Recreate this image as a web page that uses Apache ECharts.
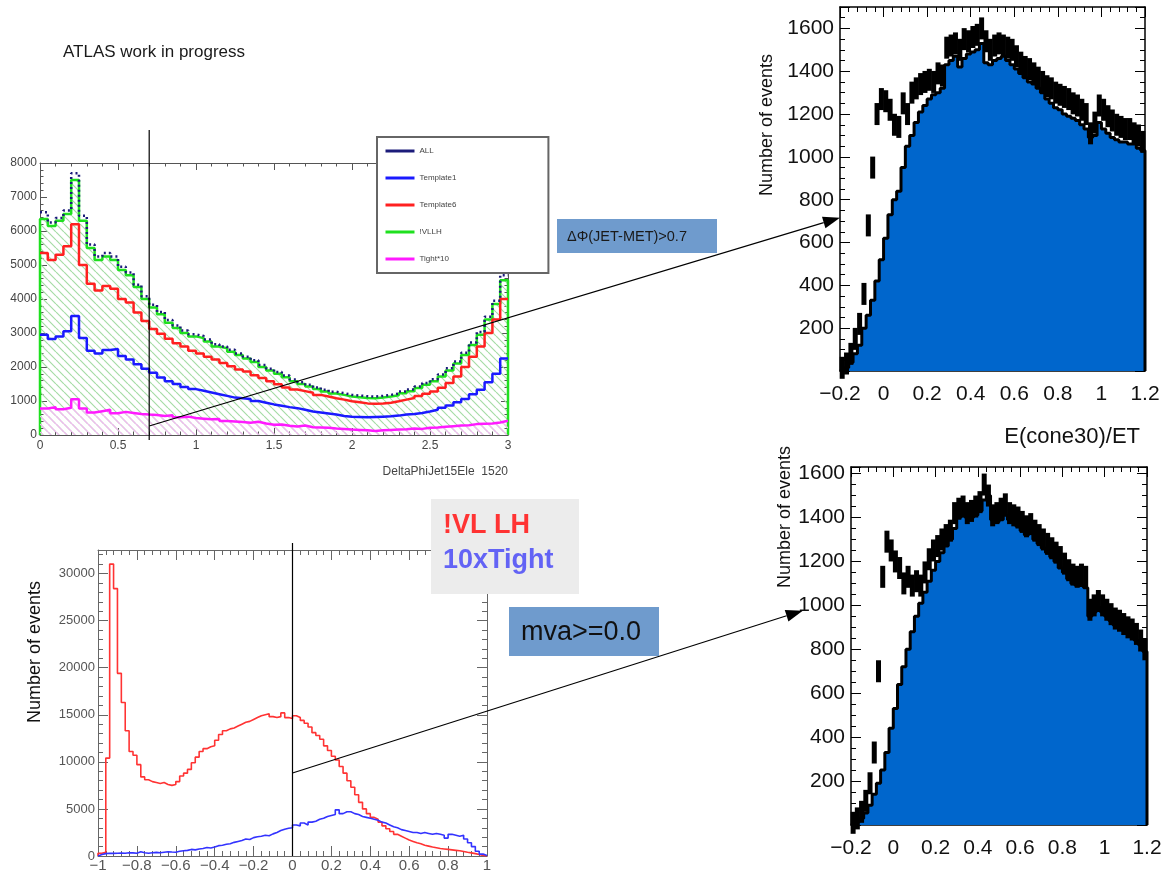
<!DOCTYPE html>
<html><head><meta charset="utf-8">
<script src="https://cdn.jsdelivr.net/npm/echarts@6/dist/echarts.min.js"></script>
<style>html,body{margin:0;padding:0;background:#fff}#c{width:1167px;height:875px}</style>
</head><body><div id="c"></div>
<script>
// ---------- DATA ----------
// Panel 1: DeltaPhiJet15Ele, bins of 0.05 from 0 to 3
const phiLo = 0, phiW = 0.05;
const phiAll = [6550,6250,6380,6600,7700,6450,5600,5250,5350,5250,4950,4780,4420,4080,3830,3620,3380,3220,3070,2960,
  2910,2810,2670,2600,2510,2400,2300,2200,2060,1950,1850,1750,1630,1550,1480,1400,1330,1270,1230,1180,
  1160,1140,1130,1150,1180,1220,1280,1340,1430,1530,1640,1780,1960,2160,2420,2720,3030,3480,3950,4700];
const phiT1 = [2950,2820,2900,3050,3500,2850,2480,2400,2500,2530,2320,2220,2080,1950,1830,1690,1580,1500,1410,1350,
  1300,1250,1200,1150,1100,1080,1060,1000,950,900,860,820,790,740,690,660,630,600,560,540,
  530,520,530,540,550,570,600,620,650,690,740,800,870,960,1060,1200,1330,1550,1800,2250];
const phiT6 = [5350,5150,5300,5550,6200,5000,4450,4250,4380,4300,4000,3900,3600,3350,3120,2980,2830,2700,2600,2480,
  2400,2300,2220,2120,2020,1930,1870,1760,1680,1580,1490,1400,1340,1290,1240,1180,1130,1080,1040,990,
  960,930,920,930,950,990,1040,1090,1150,1210,1280,1390,1530,1720,2000,2300,2600,3000,3400,4000];
const phiVLLH = [6350,6150,6300,6500,7500,6300,5500,5150,5250,5150,4850,4700,4350,4000,3750,3550,3300,3150,3000,2900,
  2850,2750,2600,2550,2450,2350,2250,2150,2000,1900,1800,1700,1580,1500,1430,1350,1280,1220,1180,1130,
  1110,1090,1080,1100,1130,1170,1230,1290,1380,1480,1580,1720,1900,2100,2350,2650,2950,3400,3850,4550];
const phiTight = [780,820,760,800,1050,780,660,700,740,640,680,650,620,600,590,560,580,520,540,500,
  480,460,470,410,400,380,360,390,340,300,310,270,250,280,230,220,210,190,180,160,
  150,140,120,140,150,160,170,190,180,210,220,240,260,280,290,320,330,340,370,420];
const phiNames = ['ALL','Template1','Template6','!VLLH','Tight*10'];

// Panel 3: mva, bins of 0.02 from -1 to 1
const mvaLo = -1, mvaW = 0.02;
const mvaRed = [300,400,10400,31000,28400,19400,16300,13300,11100,10700,9700,8400,8100,7900,7800,7700,7800,7600,7500,7600,
  7900,8500,8800,9200,9900,10500,11100,11400,11600,11700,12300,12900,13300,13500,13600,13800,14000,14200,14300,14500,
  14700,14900,15000,15100,14800,14700,14800,15200,14700,14600,14900,14700,14400,14100,13700,13100,12800,12400,11700,11200,
  10600,10200,9500,8800,8000,7300,6500,5700,5000,4500,4100,3900,3600,3200,2900,2600,2300,2100,1900,1700,
  1550,1400,1300,1150,1050,950,880,800,750,700,650,600,550,480,400,330,250,150,60,10];
const mvaBlue = [150,250,300,280,300,320,300,350,330,300,450,350,300,350,380,350,400,450,420,400,
  500,550,600,700,650,750,800,900,850,950,1100,1150,1250,1300,1450,1550,1650,1800,1750,1950,
  2050,2100,2200,2150,2350,2500,2700,2850,2950,3000,3300,3200,3500,3300,3600,3700,3900,4000,4200,4300,
  4400,4900,4500,4700,4700,4500,4400,4200,4100,4000,3900,3800,3600,3500,3300,3100,3000,2800,2700,2600,
  2500,2500,2400,2500,2400,2300,2400,2300,2200,1900,2300,2200,2100,2200,1800,1400,1000,500,200,50];

// Panels 2 and 4: E(cone30)/ET, bins of 0.02 from -0.2 to 1.2
const isoLo = -0.2, isoW = 0.02;
const isoTopFill = [5,15,40,80,120,200,260,330,420,520,620,730,800,840,950,1050,1100,1160,1210,1240,
  1270,1290,1300,1320,1430,1450,1470,1420,1460,1480,1490,1500,1530,1440,1430,1450,1460,1470,1450,1430,
  1410,1390,1370,1350,1340,1320,1300,1270,1250,1230,1220,1200,1190,1180,1170,1150,1130,1090,1100,1160,
  1130,1110,1090,1080,1070,1070,1060,1060,1040,1030];
const isoTopPts = [15,35,80,150,220,360,680,950,1200,1270,1260,1220,1150,1140,1250,1200,1300,1320,1340,1350,
  1360,1350,1390,1380,1510,1520,1530,1500,1550,1540,1560,1570,1600,1540,1500,1520,1530,1520,1510,1500,
  1470,1440,1420,1410,1390,1370,1350,1330,1320,1300,1290,1280,1270,1250,1240,1220,1200,1110,1160,1240,
  1220,1190,1170,1150,1140,1130,1130,1110,1100,1070];
const isoBotFill = [5,15,30,55,90,140,190,250,330,440,530,640,720,800,880,950,1010,1060,1110,1160,
  1200,1240,1270,1300,1350,1400,1420,1400,1400,1410,1430,1480,1500,1390,1380,1390,1410,1390,1380,1360,
  1340,1320,1330,1300,1280,1260,1240,1220,1200,1170,1150,1120,1100,1090,1090,1080,950,970,990,970,
  950,930,910,900,890,880,860,840,820,790];
const isoBotPts = [10,30,60,110,190,330,700,1130,1290,1250,1200,1170,1100,1130,1090,1110,1090,1150,1210,1250,
  1270,1300,1320,1340,1420,1440,1450,1420,1430,1450,1470,1550,1500,1410,1420,1440,1460,1420,1410,1400,
  1380,1360,1370,1340,1320,1300,1280,1260,1240,1220,1190,1160,1140,1130,1140,1130,980,1000,1020,1000,
  980,960,940,930,915,900,890,870,840,800];

// ---------- HELPERS ----------
const FONT = 'Liberation Sans';
function stepData(lo, w, vals, closed) {
  const d = [];
  if (closed) d.push([lo, 0]);
  vals.forEach((v, i) => d.push([lo + i * w, v]));
  d.push([lo + vals.length * w, vals[vals.length - 1]]);
  if (closed) d.push([lo + vals.length * w, 0]);
  return d;
}
function ptsData(lo, w, vals) { return vals.map((v, i) => [lo + (i + 0.5) * w, v]); }
function fmtNum(v) { const r = Math.round(v * 1000) / 1000; return (r < 0 ? '\u2212' : '') + String(Math.abs(r)); }
function hatch(color) {
  const s = 8, c = document.createElement('canvas');
  c.width = s; c.height = s;
  const g = c.getContext('2d');
  g.strokeStyle = color; g.lineWidth = 1.2;
  g.beginPath();
  [-s, 0, s].forEach(k => { g.moveTo(k, 0); g.lineTo(k + s, s); });
  g.stroke();
  return c;
}
function axis(pos, grid, min, max, intv, o, labels) {
  const a = {
    type: 'value', gridIndex: grid, min: min, max: max, interval: intv, position: pos,
    axisLine: { show: true, onZero: false, lineStyle: { color: o.c, width: o.lw } },
    axisTick: { show: true, inside: true, length: o.tl, lineStyle: { color: o.c } },
    minorTick: { show: true, splitNumber: o.ms, length: o.tl / 2, lineStyle: { color: o.c } },
    splitLine: { show: false }, minorSplitLine: { show: false },
    axisLabel: { show: !!labels }
  };
  if (labels) {
    a.axisLabel = Object.assign({ show: true, fontFamily: FONT, fontSize: o.fs, color: o.lc, margin: o.m,
      formatter: fmtNum, hideOverlap: false }, labels);
  }
  return a;
}

// ---------- AXES ----------
const s1x = { c: '#555', lw: 1, tl: 7, ms: 5, fs: 12, lc: '#444', m: 5 };
const s1y = { c: '#555', lw: 1, tl: 7, ms: 5, fs: 12, lc: '#444', m: 3 };
const s2x = { c: '#000', lw: 1.5, tl: 10, ms: 5, fs: 21, lc: '#111', m: 13 };
const s2y = { c: '#000', lw: 1.5, tl: 10, ms: 4, fs: 21, lc: '#111', m: 6 };
const s3x = { c: '#666', lw: 1, tl: 10, ms: 5, fs: 15, lc: '#555', m: 2 };
const s3y = { c: '#666', lw: 1, tl: 10, ms: 5, fs: 13, lc: '#555', m: 3 };
const hideZero = v => (Math.abs(v) < 1e-9 ? '' : fmtNum(v));

const xAxes = [
  axis('bottom', 0, 0, 3, 0.5, s1x, {}),
  axis('top', 0, 0, 3, 0.5, s1x, null),
  axis('bottom', 1, -0.2, 1.2, 0.2, s2x, {}),
  axis('top', 1, -0.2, 1.2, 0.2, s2x, null),
  axis('bottom', 2, -1, 1, 0.2, s3x, {}),
  axis('top', 2, -1, 1, 0.2, s3x, null),
  axis('bottom', 3, -0.2, 1.2, 0.2, s2x, {}),
  axis('top', 3, -0.2, 1.2, 0.2, s2x, null)
];
const yAxes = [
  axis('left', 0, 0, 8000, 1000, s1y, {}),
  axis('right', 0, 0, 8000, 1000, s1y, null),
  axis('left', 1, 0, 1700, 200, s2y, { formatter: hideZero, showMaxLabel: false }),
  axis('right', 1, 0, 1700, 200, s2y, null),
  axis('left', 2, 0, 32500, 5000, s3y, { showMaxLabel: false }),
  axis('right', 2, 0, 32500, 5000, s3y, null),
  axis('left', 3, 0, 1630, 200, s2y, { formatter: hideZero, showMaxLabel: false }),
  axis('right', 3, 0, 1630, 200, s2y, null)
];

// ---------- SERIES ----------
function stepSeries(name, xi, lo, w, vals, closed, color, width, extra) {
  return Object.assign({
    type: 'line', name: name, xAxisIndex: xi, yAxisIndex: xi, step: 'end', symbol: 'none',
    data: stepData(lo, w, vals, closed), silent: true, animation: false,
    lineStyle: { color: color, width: width }, itemStyle: { color: color }
  }, extra || {});
}
function markers(name, xi, vals) {
  return { type: 'scatter', name: name, xAxisIndex: xi, yAxisIndex: xi, data: ptsData(isoLo, isoW, vals),
    symbol: 'rect', symbolSize: [5, 22], itemStyle: { color: '#000', opacity: 1 }, silent: true, animation: false, z: 3 };
}
const series = [
  stepSeries('!VLLH', 0, phiLo, phiW, phiVLLH, true, '#1fe01f', 2.5,
    { areaStyle: { color: { image: hatch('#a6dca6'), repeat: 'repeat' }, opacity: 1 }, z: 2 }),
  stepSeries('Tight*10', 0, phiLo, phiW, phiTight, false, '#ff1aff', 2.5,
    { areaStyle: { color: { image: hatch('#f3b3f3'), repeat: 'repeat' }, opacity: 1 }, z: 3 }),
  stepSeries('Template6', 0, phiLo, phiW, phiT6, false, '#ff2020', 2.5, { z: 4 }),
  stepSeries('Template1', 0, phiLo, phiW, phiT1, false, '#1a1aff', 2.5, { z: 4 }),
  stepSeries('ALL', 0, phiLo, phiW, phiAll, false, '#1c1c7a', 2.5,
    { lineStyle: { color: '#1c1c7a', width: 2.5, type: [2, 3] }, z: 5 }),

  stepSeries('isoTop', 2, isoLo, isoW, isoTopFill, true, '#000', 3,
    { areaStyle: { color: '#0066cc', opacity: 1 } }),
  markers('isoTopPts', 2, isoTopPts),

  stepSeries('mvaRed', 4, mvaLo, mvaW, mvaRed, true, '#ff3333', 1.6),
  stepSeries('mvaBlue', 4, mvaLo, mvaW, mvaBlue, true, '#3333ff', 1.6),

  stepSeries('isoBot', 6, isoLo, isoW, isoBotFill, true, '#000', 3,
    { areaStyle: { color: '#0066cc', opacity: 1 } }),
  markers('isoBotPts', 6, isoBotPts)
];

const chart = echarts.init(document.getElementById('c'), null, { renderer: 'canvas' });
chart.setOption({
  animation: false,
  backgroundColor: '#fff',
  grid: [
    { left: 40, top: 163, width: 468, height: 272 },
    { left: 840, top: 7, width: 305, height: 364 },
    { left: 98, top: 550, width: 389, height: 306 },
    { left: 851, top: 467, width: 296, height: 358 }
  ],
  xAxis: xAxes,
  yAxis: yAxes,
  legend: {
    data: phiNames, orient: 'vertical', left: 377, top: 137,
    padding: [10, 92, 10, 7], itemGap: 19, itemWidth: 29, itemHeight: 10,
    borderColor: '#666', borderWidth: 2, backgroundColor: '#fff',
    textStyle: { fontFamily: FONT, fontSize: 8, color: '#444' },
    lineStyle: { type: 'solid', width: 3 }, itemStyle: { opacity: 0 }, selectedMode: false
  },
  series: series
});

// ---------- ANNOTATIONS ----------
const P = (xi, v) => chart.convertToPixel({ xAxisIndex: xi, yAxisIndex: xi }, v);
function arrow(a, b, L, W) {
  const dx = b[0] - a[0], dy = b[1] - a[1], len = Math.hypot(dx, dy);
  const ux = dx / len, uy = dy / len, nx = -uy, ny = ux;
  const bx = b[0] - ux * L, by = b[1] - uy * L;
  return [
    { type: 'line', shape: { x1: a[0], y1: a[1], x2: bx, y2: by }, style: { stroke: '#000', lineWidth: 1.2 }, z: 50 },
    { type: 'polygon', shape: { points: [[b[0], b[1]], [bx + nx * W, by + ny * W], [bx - nx * W, by - ny * W]] },
      style: { fill: '#000' }, z: 50 }
  ];
}
const cut1a = P(0, [0.7, 8970]), cut1b = P(0, [0.7, -150]);
const cut2a = P(4, [0, 33240]), cut2b = P(4, [0, 0]);
const arr1 = arrow(P(0, [0.7, 265]), P(2, [-0.2, 716]), 17, 6);
const arr2 = arrow(P(4, [0, 8815]), P(6, [-0.428, 976]), 17, 6);
const txt = (x, y, s, o) => Object.assign({ type: 'text', x: x, y: y, z: 60,
  style: Object.assign({ text: s, fontFamily: FONT, fill: '#111', textVerticalAlign: 'middle' }, o) });

chart.setOption({
  graphic: [
    txt(63, 52, 'ATLAS work in progress', { fontSize: 17, fill: '#1a1a1a' }),
    { type: 'line', shape: { x1: cut1a[0], y1: cut1a[1], x2: cut1b[0], y2: cut1b[1] }, style: { stroke: '#000', lineWidth: 1.2 }, z: 50 },
    { type: 'line', shape: { x1: cut2a[0], y1: cut2a[1], x2: cut2b[0], y2: cut2b[1] }, style: { stroke: '#000', lineWidth: 1.2 }, z: 50 },
    ...arr1, ...arr2,
    { type: 'rect', shape: { x: 557, y: 219, width: 160, height: 34 }, style: { fill: '#6f9bcd' }, z: 55 },
    txt(567, 237, '\u0394\u03a6(JET-MET)>0.7', { fontSize: 14.5, fill: '#1a1a1a' }),
    { type: 'rect', shape: { x: 431, y: 499, width: 148, height: 95 }, style: { fill: '#ececec' }, z: 55 },
    txt(443, 526, '!VL LH', { fontSize: 27, fontWeight: 'bold', fill: '#ff3333' }),
    txt(443, 561, '10xTight', { fontSize: 27, fontWeight: 'bold', fill: '#6363f5' }),
    { type: 'rect', shape: { x: 509, y: 607, width: 150, height: 49 }, style: { fill: '#6f9bcd' }, z: 55 },
    txt(521, 633, 'mva>=0.0', { fontSize: 27, fill: '#111' }),
    txt(508, 472, 'DeltaPhiJet15Ele  1520', { fontSize: 12, fill: '#444', textAlign: 'right' }),
    txt(1140, 437, 'E(cone30)/ET', { fontSize: 22, textAlign: 'right' }),
    Object.assign(txt(767, 125, 'Number of events', { fontSize: 18, textAlign: 'center' }), { rotation: Math.PI / 2 }),
    Object.assign(txt(785, 517, 'Number of events', { fontSize: 18, textAlign: 'center' }), { rotation: Math.PI / 2 }),
    Object.assign(txt(35, 652, 'Number of events', { fontSize: 18, textAlign: 'center' }), { rotation: Math.PI / 2 })
  ]
});
</script></body></html>
